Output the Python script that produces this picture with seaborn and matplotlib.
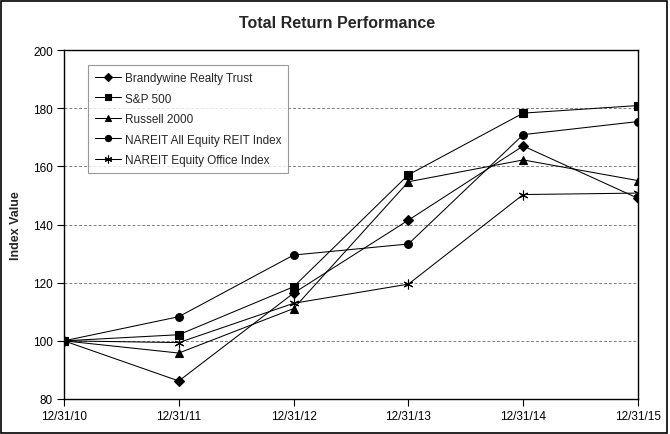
import matplotlib
matplotlib.use("Agg")
import matplotlib.pyplot as plt
import seaborn as sns
import pandas as pd
from matplotlib.patches import Rectangle

dates = ["12/31/10", "12/31/11", "12/31/12", "12/31/13", "12/31/14", "12/31/15"]
brandywine = [100, 86.2, 116.4, 141.5, 167.0, 149.0]
sp500 = [100, 102.1, 118.6, 157.1, 178.3, 180.9]
russell = [100, 95.8, 111.1, 154.7, 162.2, 155.1]
nareit_all = [100, 108.3, 129.5, 133.3, 170.9, 175.4]
nareit_office = [100, 99.4, 112.9, 119.5, 150.3, 150.8]

series_names = ["Brandywine Realty Trust", "S&P 500", "Russell 2000",
                "NAREIT All Equity REIT Index", "NAREIT Equity Office Index"]
series_vals = [brandywine, sp500, russell, nareit_all, nareit_office]

rows = []
for name, vals in zip(series_names, series_vals):
    for i, v in enumerate(vals):
        rows.append({"x": i, "value": v, "series": name})
df = pd.DataFrame(rows)

sns.set_style("white")
plt.rcParams["font.family"] = ["Liberation Sans", "DejaVu Sans"]

fig = plt.figure(figsize=(6.7, 4.35), dpi=100)
ax = fig.add_axes([64/670, 1-400/435, (638-64)/670, (400-51)/435])

markers = {
    "Brandywine Realty Trust": "D",
    "S&P 500": "s",
    "Russell 2000": "^",
    "NAREIT All Equity REIT Index": "o",
    "NAREIT Equity Office Index": (6, 2, 0),
}
sizes = {
    "Brandywine Realty Trust": 4.6,
    "S&P 500": 5.6,
    "Russell 2000": 6,
    "NAREIT All Equity REIT Index": 5.6,
    "NAREIT Equity Office Index": 7,
}
for name in series_names:
    sub = df[df["series"] == name]
    sns.lineplot(data=sub, x="x", y="value", ax=ax, color="black", linewidth=0.75,
                 marker=markers[name], markersize=sizes[name], markeredgecolor="black",
                 markerfacecolor="black", markeredgewidth=0.8, label=name)

ax.set_xlim(0, 5)
ax.set_ylim(80, 200)
ax.set_xticks(range(len(dates)))
ax.set_xticklabels(dates)
ax.set_yticks(range(80, 201, 20))
ax.tick_params(axis="both", direction="out", length=5, width=0.8, labelsize=8.5,
               colors="black", bottom=True, left=True, pad=3)
ax.set_xlabel("")
ax.set_ylabel("Index Value", fontsize=9, fontweight="bold", labelpad=8)
ax.yaxis.grid(True, linestyle=(0, (3, 2)), color="#808080", linewidth=0.7)
ax.xaxis.grid(False)
for s in ax.spines.values():
    s.set_color("black")
    s.set_linewidth(1.0)
    s.set_visible(True)

fig.suptitle("Total Return Performance", fontsize=11.5, fontweight="bold",
             y=1-24/435, va="center", x=(240+434)/2/670)

leg = ax.legend(loc="upper left", bbox_to_anchor=(0.042, 0.957), borderaxespad=0,
                fancybox=False, frameon=True, fontsize=8.5, handlelength=2.2,
                handletextpad=0.3, labelspacing=0.72, borderpad=0.6, markerscale=0.8)
leg.get_frame().set_edgecolor("#808080")
leg.get_frame().set_linewidth(0.8)

fig.patches.append(Rectangle((0.002, 0.003), 0.994, 0.993, transform=fig.transFigure,
                             fill=False, edgecolor="black", linewidth=1.2))

fig.savefig("out.png", dpi=100)
